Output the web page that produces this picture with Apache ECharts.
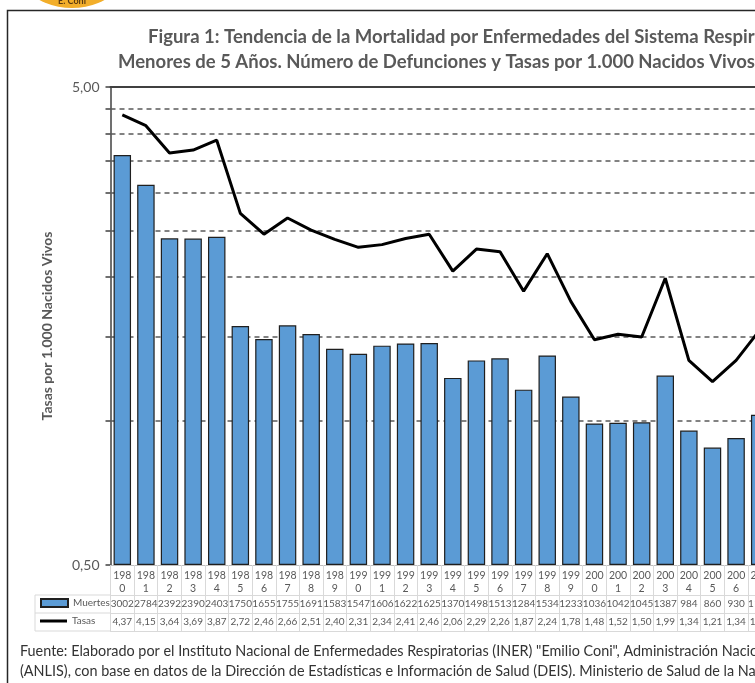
<!DOCTYPE html>
<html>
<head>
<meta charset="utf-8">
<script src="https://cdn.jsdelivr.net/npm/echarts@6/dist/echarts.min.js"></script>
<style>html,body{margin:0;padding:0;background:#fff}#c{width:755px;height:683px}</style>
</head>
<body>
<div id="c"></div>
<script>
const years = ['1980','1981','1982','1983','1984','1985','1986','1987','1988','1989','1990','1991','1992','1993','1994','1995','1996','1997','1998','1999','2000','2001','2002','2003','2004','2005','2006','2007'];
const muertes = [3002,2784,2392,2390,2403,1750,1655,1755,1691,1583,1547,1606,1622,1625,1370,1498,1513,1284,1534,1233,1036,1042,1045,1387,984,860,930,1100];
const tasas = [4.37,4.15,3.64,3.69,3.87,2.72,2.46,2.66,2.51,2.40,2.31,2.34,2.41,2.46,2.06,2.29,2.26,1.87,2.24,1.78,1.48,1.52,1.50,1.99,1.34,1.21,1.34,1.55];
const yTickValues = [0.5,1,1.5,2,2.5,3,3.5,4,4.5,5];
const yLabelValues = [0.5,5];
const gridValues = [1,1.5,2,2.5,3,3.5,4,4.5];

const FONT = 'Lato';
const GRAY = '#595959';
const comma = v => Number(v).toFixed(2).replace('.', ',');

const chart = echarts.init(document.getElementById('c'));
chart.setOption({
  animation: false,
  textStyle: { fontFamily: FONT },
  title: [
    { text: 'Figura 1: Tendencia de la Mortalidad por Enfermedades del Sistema Respiratorio', left: 148, top: 28, padding: 0,
      textStyle: { fontFamily: FONT, fontSize: 18.5, fontWeight: 'bold', color: GRAY } },
    { text: 'Menores de 5 Años. Número de Defunciones y Tasas por 1.000 Nacidos Vivos.', left: 118, top: 53, padding: 0,
      textStyle: { fontFamily: FONT, fontSize: 18.5, fontWeight: 'bold', color: GRAY } },
    { text: 'Fuente: Elaborado por el Instituto Nacional de Enfermedades Respiratorias (INER) "Emilio Coni", Administración Nacional\n(ANLIS), con base en datos de la Dirección de Estadísticas e Información de Salud (DEIS). Ministerio de Salud de la Nación',
      left: 20, top: 641, padding: 0,
      textStyle: { fontFamily: FONT, fontSize: 14.4, fontWeight: 'normal', color: '#333', lineHeight: 20 } }
  ],
  legend: [
    { data: [{ name: 'Muertes', icon: 'rect' }], left: 40, top: 598, itemWidth: 27, itemHeight: 8, padding: 0,
      textStyle: { fontFamily: FONT, fontSize: 10, color: GRAY } },
    { data: [{ name: 'Tasas', icon: 'rect' }], left: 40, top: 616, itemWidth: 27, itemHeight: 3, padding: 0,
      textStyle: { fontFamily: FONT, fontSize: 10, color: GRAY } }
  ],
  grid: { left: 110.5, right: -16.5, top: 87, bottom: 118, containLabel: false, outerBoundsMode: 'none' },
  xAxis: [
    { type: 'category', data: years, position: 'bottom', gridIndex: 0,
      axisLine: { show: true, lineStyle: { color: '#bfbfbf', width: 1 } },
      axisTick: { show: true, interval: 0, length: 66, lineStyle: { color: '#d9d9d9', width: 1 } },
      axisLabel: { interval: 0, margin: 4, fontSize: 10.5, lineHeight: 13, color: GRAY, fontFamily: FONT,
        formatter: v => v.slice(0,3) + '\n' + v.slice(3) } },
    { type: 'category', data: muertes.map(String), position: 'bottom', offset: 30,
      axisLine: { show: true, lineStyle: { color: '#d9d9d9', width: 1 } },
      axisTick: { show: false },
      axisLabel: { interval: 0, margin: 4, fontSize: 10, color: GRAY, fontFamily: FONT } },
    { type: 'category', data: tasas.map(comma), position: 'bottom', offset: 48,
      axisLine: { show: true, lineStyle: { color: '#d9d9d9', width: 1 } },
      axisTick: { show: false },
      axisLabel: { interval: 0, margin: 4, fontSize: 10, color: GRAY, fontFamily: FONT } },
    { type: 'category', data: years, position: 'bottom', offset: 66,
      axisLine: { show: true, lineStyle: { color: '#d9d9d9', width: 1 } },
      axisTick: { show: false }, axisLabel: { show: false } },
    { type: 'category', data: years, position: 'top',
      axisLine: { show: true, lineStyle: { color: '#404040', width: 2 } },
      axisTick: { show: false }, axisLabel: { show: false } }
  ],
  yAxis: [
    { type: 'log', logBase: 10, min: 0.5, max: 5,
      name: 'Tasas por 1.000 Nacidos Vivos', nameLocation: 'middle', nameGap: 56,
      nameTextStyle: { fontFamily: FONT, fontSize: 14, fontWeight: 'bold', color: GRAY },
      axisLine: { show: true, lineStyle: { color: '#404040', width: 1.5 } },
      axisTick: { show: true, length: 5, customValues: yTickValues, lineStyle: { color: '#404040', width: 1.5 } },
      axisLabel: { customValues: yLabelValues, formatter: comma, fontSize: 14, color: GRAY, margin: 11, fontFamily: FONT },
      splitLine: { show: false } },
    { type: 'value', min: 0, max: 3500, show: false, splitLine: { show: false } }
  ],
  series: [
    { name: 'Muertes', type: 'bar', xAxisIndex: 0, yAxisIndex: 1, data: muertes, z: 2,
      barCategoryGap: '26%',
      itemStyle: { color: '#5B9BD5', borderColor: '#1f1f1f', borderWidth: 1.2 } },
    { name: 'Tasas', type: 'line', xAxisIndex: 0, yAxisIndex: 0, data: tasas, z: 3,
      symbol: 'none', lineStyle: { color: '#000', width: 3 }, itemStyle: { color: '#000' },
      markLine: { silent: true, z: 1, symbol: 'none', label: { show: false },
        lineStyle: { color: '#595959', type: [5, 4], width: 1.5 },
        data: gridValues.map(v => ({ yAxis: v })) } }
  ],
  graphic: [
    { type: 'circle', shape: { cx: 72, cy: -62, r: 70 }, style: { fill: '#F2AE2A' }, z: 0 },
    { type: 'text', x: 72, y: 1, style: { text: 'E. Coni', fontSize: 9, fontWeight: 'bold', fill: '#5a3a10', align: 'center', verticalAlign: 'middle', fontFamily: FONT } },
    { type: 'rect', shape: { x: 7.5, y: 10.5, width: 800, height: 720 }, style: { fill: 'none', stroke: '#262626', lineWidth: 1.5 } },
    { type: 'line', shape: { x1: 35, y1: 595, x2: 111, y2: 595 }, style: { stroke: '#d9d9d9', lineWidth: 1 } },
    { type: 'line', shape: { x1: 35, y1: 613, x2: 111, y2: 613 }, style: { stroke: '#d9d9d9', lineWidth: 1 } },
    { type: 'line', shape: { x1: 35, y1: 631, x2: 111, y2: 631 }, style: { stroke: '#d9d9d9', lineWidth: 1 } },
    { type: 'line', shape: { x1: 35, y1: 595, x2: 35, y2: 631 }, style: { stroke: '#d9d9d9', lineWidth: 1 } }
  ]
});
</script>
</body>
</html>
